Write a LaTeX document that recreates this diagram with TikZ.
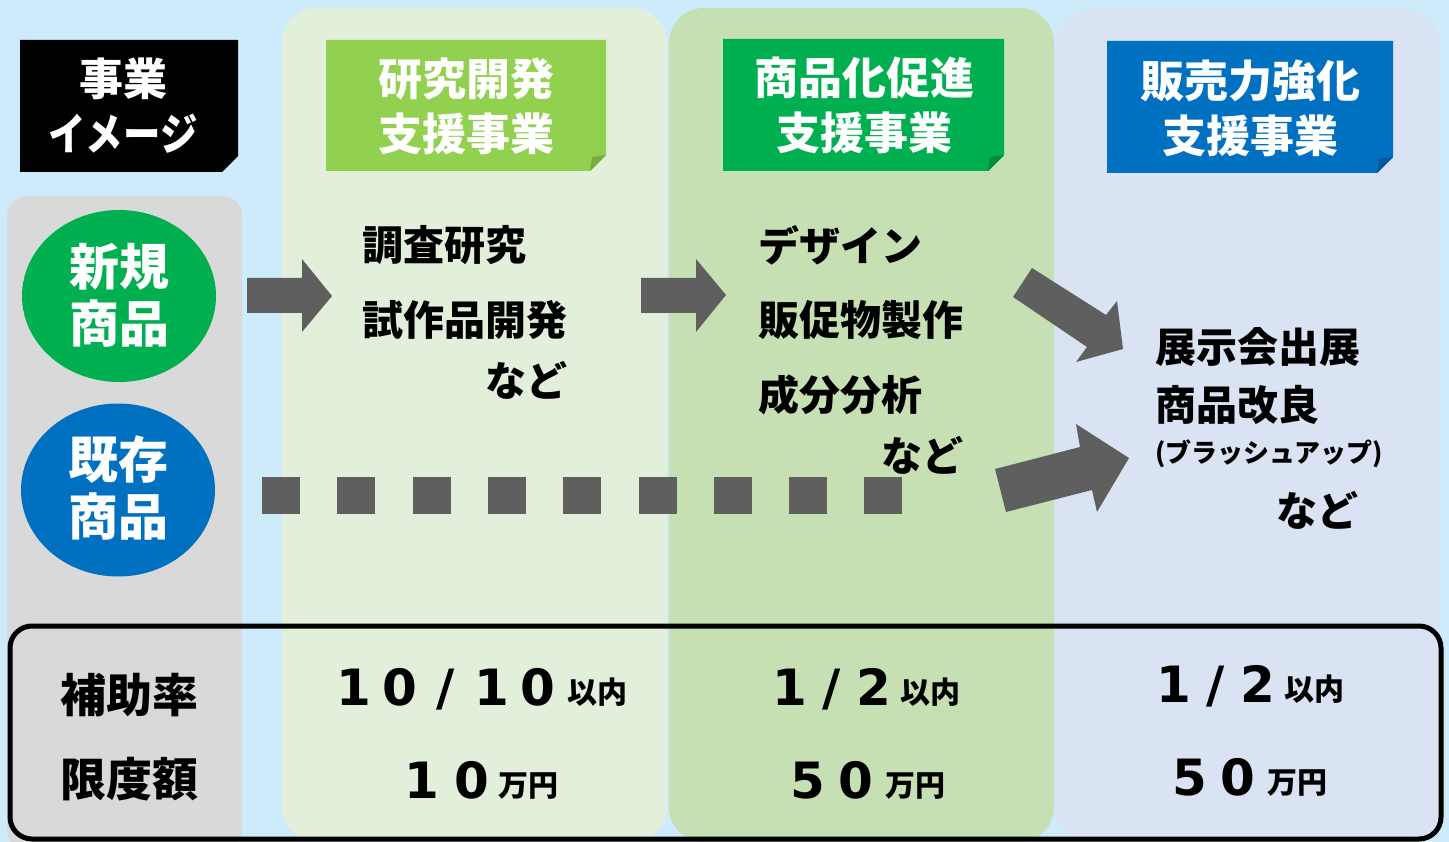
\documentclass[tikz,border=0pt]{standalone}
\usepackage{graphicx}
\usepackage{fontspec}
\setmainfont{Noto Sans CJK JP}
\newfontfamily\numfont{DejaVu Sans}
\definecolor{bgblue}{HTML}{CDEBFB}
\definecolor{colA}{HTML}{E2EFDA}
\definecolor{colB}{HTML}{C6E0B4}
\definecolor{colC}{HTML}{DAE3F3}
\definecolor{colG}{HTML}{D9D9D9}
\definecolor{hdA}{HTML}{92D050}
\definecolor{hdAf}{HTML}{76AE3C}
\definecolor{hdB}{HTML}{00B050}
\definecolor{hdBf}{HTML}{008C3E}
\definecolor{hdC}{HTML}{0070C0}
\definecolor{hdCf}{HTML}{0058A0}
\definecolor{arrowgray}{HTML}{5F5F5F}
\newcommand\dg[2]{\makebox[#1pt]{#2}}
\tikzset{
  every node/.style={inner sep=0pt, outer sep=0pt},
  hdtxt/.style={font=\bfseries\fontsize{44}{55}\selectfont, text=white, align=center},
  circtxt/.style={font=\bfseries\fontsize{50}{57}\selectfont, text=white, align=center},
  body/.style={font=\bfseries\fontsize{41}{48}\selectfont, text=black},
  small/.style={font=\bfseries\fontsize{26}{32}\selectfont, text=black},
  label/.style={font=\bfseries\fontsize{46}{52}\selectfont, text=black},
  num/.style={font=\numfont\bfseries\fontsize{50}{60}\selectfont, text=black},
  unit/.style={font=\bfseries\fontsize{30}{36}\selectfont, text=black},
  blockarrow/.style={fill=arrowgray},
  dotsq/.style={fill=arrowgray},
}
\begin{document}
\begin{tikzpicture}[x=1pt,y=-1pt]
\useasboundingbox (0,0) rectangle (1449,842);
\fill[bgblue] (0,0) rectangle (1449,842);
% columns
\fill[colG, rounded corners=20] (7,196) rectangle (242,850);
\fill[colA, rounded corners=35] (282,8) rectangle (667,842);
\fill[colB, rounded corners=35] (669,8) rectangle (1054,842);
\fill[colC, rounded corners=35] (1055,10) rectangle (1440,842);
% bottom frame
\draw[line width=5pt, rounded corners=22] (10,626) rectangle (1441,839);
% header boxes
\fill[black] (20,40) -- (238,40) -- (238,156) -- (222,172) -- (20,172) -- cycle;
\fill[hdA] (326,40) -- (606,40) -- (606,155) -- (590,171) -- (326,171) -- cycle;
\fill[hdAf] (590,171) -- (606,155) -- (592,157) -- cycle;
\fill[hdB] (723,39) -- (1004,39) -- (1004,155) -- (988,171) -- (723,171) -- cycle;
\fill[hdBf] (988,171) -- (1004,155) -- (990,157) -- cycle;
\fill[hdC] (1107,41) -- (1393,41) -- (1393,157) -- (1377,173) -- (1107,173) -- cycle;
\fill[hdCf] (1377,173) -- (1393,157) -- (1379,159) -- cycle;
\node[hdtxt] (hd0) at (123,106) {事業\\\scalebox{0.85}[1]{イメージ}};
\node[hdtxt] (hd1) at (466,106) {研究開発\\支援事業};
\node[hdtxt] (hd2) at (864,105) {商品化促進\\支援事業};
\node[hdtxt] (hd3) at (1250,108) {販売力強化\\支援事業};
% circles
\fill[hdB] (119,296) ellipse [x radius=97, y radius=86];
\fill[hdC] (118,490) ellipse [x radius=97, y radius=86.5];
\node[circtxt] (new) at (119,295) {新規\\商品};
\node[circtxt] (old) at (118,488) {既存\\商品};
% arrows
\fill[blockarrow] (247,278) -- (302,278) -- (302,259) -- (332,296) -- (302,332) -- (302,313) -- (247,313) -- cycle;
\fill[blockarrow] (641,278) -- (696,278) -- (696,259) -- (726,295) -- (696,332) -- (696,313) -- (641,313) -- cycle;
\fill[blockarrow] (1032,268) -- (1106,315) -- (1117,301) -- (1123,349) -- (1076,362) -- (1087,347) -- (1013,297) -- cycle;
\fill[blockarrow] (995,469) -- (1080,447) -- (1076,424) -- (1129,458) -- (1097,512) -- (1092,490) -- (1006,512) -- cycle;
% dotted line
\foreach \k in {0,...,8}{
  \fill[dotsq] ({262+75.3*\k},477) rectangle ++(38,37);
}
% body texts
\node[body, anchor=west] (a1) at (362,245) {調査研究};
\node[body, anchor=west] (a2) at (362,320) {試作品開発};
\node[body, anchor=east] (a3) at (567,380) {など};
\node[body, anchor=west] (b1) at (758,245) {デザイン};
\node[body, anchor=west] (b2) at (758,320) {販促物製作};
\node[body, anchor=west] (b3) at (758,395) {成分分析};
\node[body, anchor=east] (b4) at (963,455) {など};
\node[body, anchor=west] (c1) at (1155,347) {展示会出展};
\node[body, anchor=west] (c2) at (1155,405) {商品改良};
\node[small, anchor=west] (c3) at (1155,454) {(ブラッシュアップ)};
\node[body, anchor=east] (c4) at (1358,510) {など};
% bottom labels
\node[label] (rate) at (129,695) {補助率};
\node[label] (limit) at (129,779) {限度額};
% numbers
\node[num, anchor=base west] (r1) at (331,705) {\dg{46}{1}\dg{46}{0}\dg{46}{/}\dg{46}{1}\dg{46}{0}};
\node[unit, anchor=base west] (r1u) at (567,703) {以内};
\node[num, anchor=base west] (l1) at (397,798) {\dg{50}{1}\dg{50}{0}};
\node[unit, anchor=base west] (l1u) at (498,796) {万円};
\node[num, anchor=base west] (r2) at (769,705) {\dg{42}{1}\dg{42}{/}\dg{42}{2}};
\node[unit, anchor=base west] (r2u) at (900,703) {以内};
\node[num, anchor=base west] (l2) at (784,798) {\dg{48}{5}\dg{48}{0}};
\node[unit, anchor=base west] (l2u) at (885,796) {万円};
\node[num, anchor=base west] (r3) at (1153,702) {\dg{42}{1}\dg{42}{/}\dg{42}{2}};
\node[unit, anchor=base west] (r3u) at (1284,700) {以内};
\node[num, anchor=base west] (l3) at (1166,795) {\dg{48}{5}\dg{48}{0}};
\node[unit, anchor=base west] (l3u) at (1267,793) {万円};
\end{tikzpicture}
\end{document}
